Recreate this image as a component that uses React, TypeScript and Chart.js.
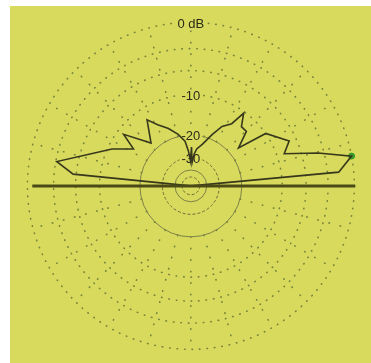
import React, { useEffect, useRef } from "react";
import { Chart, registerables } from "chart.js";
Chart.register(...registerables);

// Elevation pattern (ARRL log scale), angle in degrees from the right horizon
const elevationDeg = [0, 5.3, 10.5, 14.5, 19, 24.5, 35, 38.5, 44.5, 49.5, 54, 56.7, 62.3, 67.5, 74.4, 81, 84, 87, 89, 91, 94, 97.4, 103.8, 111.3, 118.4, 123.5, 132.9, 142.5, 147.2, 154.9, 169.7, 174.3, 180];
const gainDb = [-99, -1.65, 0, -3.75, -8.65, -7.11, -9.97, -16.94, -12.73, -12.73, -10.26, -13.5, -15.27, -18.55, -22.76, -25.29, -27.93, -33.4, -24.63, -32.0, -26.4, -22.08, -19.29, -16.75, -14.64, -12.41, -17.64, -11.29, -14.98, -10.81, -3.13, -5.55, -99];
const markerIndex = 2;
const dottedRingsDb = [0, -3, -6, -10];
const solidRingsDb = [-20, -40];
const dashedRingsDb = [-30, -50];
const ringLabelDb = [0, -10, -20, -30];
const ringLabelText = ["0 dB", "-10", "-20", "-30"];
const spokeDeg = [0, 15, 30, 45, 60, 75, 90, 105, 120, 135, 150, 165, 180, 195, 210, 225, 240, 255, 270, 285, 300, 315, 330, 345];
const groundX = [-0.97, 1.006];

const arrl = (db: number) => Math.pow(0.89, -db / 2);
const toXY = (deg: number, db: number) => {
  const r = arrl(db);
  const a = (deg * Math.PI) / 180;
  return { x: r * Math.cos(a), y: r * Math.sin(a) };
};

const YELLOW = "#d8da5e";

const gridPlugin = {
  id: "polarGrid",
  beforeDatasetsDraw(chart: any) {
    const ctx = chart.ctx;
    const xs = chart.scales.x;
    const ys = chart.scales.y;
    const cx = xs.getPixelForValue(0);
    const cy = ys.getPixelForValue(0);
    const rad = (db: number) => xs.getPixelForValue(arrl(db)) - cx;
    ctx.save();
    ctx.strokeStyle = "#77843a";
    ctx.lineWidth = 1.6;
    ctx.lineCap = "round";
    ctx.setLineDash([0.5, 7]);
    dottedRingsDb.forEach((db) => {
      ctx.beginPath();
      ctx.arc(cx, cy, rad(db), 0, Math.PI * 2);
      ctx.stroke();
    });
    spokeDeg.forEach((d) => {
      const a = (d * Math.PI) / 180;
      const r0 = rad(-20);
      const r1 = rad(0);
      ctx.beginPath();
      ctx.moveTo(cx + r0 * Math.cos(a), cy - r0 * Math.sin(a));
      ctx.lineTo(cx + r1 * Math.cos(a), cy - r1 * Math.sin(a));
      ctx.setLineDash([0.5, 11]);
      ctx.stroke();
    });
    ctx.lineCap = "butt";
    ctx.setLineDash([]);
    ctx.lineWidth = 1;
    ctx.strokeStyle = "#7e8146";
    solidRingsDb.forEach((db) => {
      ctx.beginPath();
      ctx.arc(cx, cy, rad(db), 0, Math.PI * 2);
      ctx.stroke();
    });
    ctx.setLineDash([3, 2]);
    ctx.strokeStyle = "#6a6d36";
    dashedRingsDb.forEach((db) => {
      ctx.beginPath();
      ctx.arc(cx, cy, rad(db), 0, Math.PI * 2);
      ctx.stroke();
    });
    ctx.setLineDash([]);
    ctx.font = "13px 'Liberation Sans', Arial, sans-serif";
    ctx.textAlign = "center";
    ctx.textBaseline = "middle";
    ringLabelDb.forEach((db, i) => {
      const y = cy - rad(db) + 2;
      const w = ctx.measureText(ringLabelText[i]).width;
      ctx.fillStyle = YELLOW;
      ctx.fillRect(cx - w / 2 - 2, y - 6, w + 4, 12);
      ctx.fillStyle = "#2a2a18";
      ctx.fillText(ringLabelText[i], cx, y);
    });
    ctx.restore();
  },
};

export default function App() {
  const ref = useRef<HTMLCanvasElement | null>(null);
  useEffect(() => {
    if (!ref.current) return;
    const pattern = elevationDeg.map((d, i) => toXY(d, gainDb[i]));
    const marker = [toXY(elevationDeg[markerIndex], gainDb[markerIndex])];
    const ground = groundX.map((x) => ({ x, y: 0 }));
    const chart = new Chart(ref.current, {
      type: "scatter",
      data: {
        datasets: [
          {
            data: ground,
            showLine: true,
            borderColor: "#4a4a16",
            borderWidth: 3,
            pointRadius: 0,
          },
          {
            data: pattern,
            showLine: true,
            borderColor: "#37371c",
            borderWidth: 1.6,
            pointRadius: 0,
            tension: 0,
          },
          {
            data: marker,
            pointRadius: 3,
            backgroundColor: "#3a9a2a",
            borderColor: "#3a9a2a",
          },
        ],
      },
      options: {
        animation: false,
        responsive: false,
        maintainAspectRatio: false,
        devicePixelRatio: 1,
        layout: { padding: 0 },
        plugins: { legend: { display: false }, tooltip: { enabled: false } },
        scales: {
          x: { type: "linear", min: -191 / 168, max: 180 / 168, display: false },
          y: { type: "linear", min: -177 / 168, max: 186 / 168, display: false },
        },
      },
      plugins: [gridPlugin],
    });
    return () => chart.destroy();
  }, []);
  return (
    <div style={{ position: "fixed", left: 0, top: 0, width: 371, height: 363, background: "#ffffff", overflow: "hidden" }}>
      <div style={{ position: "absolute", left: 10, top: 6, width: 361, height: 357, background: YELLOW }} />
      <canvas
        ref={ref}
        width={371}
        height={363}
        style={{ position: "absolute", left: 0, top: 0, width: 371, height: 363, display: "block" }}
      />
    </div>
  );
}
